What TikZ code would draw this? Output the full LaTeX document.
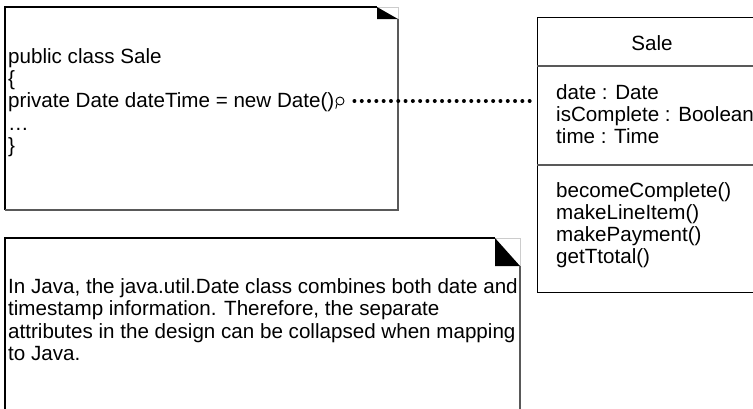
\documentclass[tikz,border=0pt]{standalone}
\usepackage{fontspec}
\setmainfont{Liberation Sans}
\begin{document}
\begin{tikzpicture}[x=1pt,y=-1pt,
  txt/.style={anchor=base west, inner sep=0pt, font=\fontsize{20.6}{23}\selectfont},
  ctxt/.style={anchor=base, inner sep=0pt, font=\fontsize{20.6}{23}\selectfont},
  border/.style={line width=1.1pt, black},
  shade/.style={line width=1.1pt, black!65},
  faint/.style={line width=0.8pt, black!20},
  dotline/.style={line width=4pt, line cap=round, dash pattern=on 0pt off 7.3pt}]
\useasboundingbox (0,0) rectangle (753,408);
\fill[white] (0,0) rectangle (753,408);

% upper note
\draw[border] (5,210) -- (5,7) -- (377,7);
\draw[faint] (377,7) -- (398,7) -- (398,19);
\fill (377,7) -- (398,19) -- (377,19) -- cycle;
\draw[shade] (398,19) -- (398,210) -- (5,210);
\node[txt] (c1) at (8,63) {public class Sale};
\node[txt] (c2) at (8,85) {\{};
\node[txt] (c3) at (8,107.5) {private Date dateTime = new Date()};
\node[txt] (c4) at (8,130) {\ldots};
\node[txt] (c5) at (8,152) {\}};

% anchor circle
\node[draw, circle, line width=0.9pt, minimum size=8pt, inner sep=0pt] (anc) at (340,101) {};
\draw[line width=0.9pt] (anc.south west) -- ++(-1,4.5);

% lower note
\draw[border] (5,410) -- (5,238) -- (495,238);
\draw[faint] (495,238) -- (520,238) -- (520,266);
\fill (495,238) -- (520,266) -- (495,266) -- cycle;
\draw[shade] (520,266) -- (520,410);
\node[txt] (j1) at (8,293) {In Java, the java.util.Date class combines both date and};
\node[txt] (j2) at (8,315.5) {timestamp information. Therefore, the separate};
\node[txt] (j3) at (8,338) {attributes in the design can be collapsed when mapping};
\node[txt] (j4) at (8,360.5) {to Java.};

% class box
\node[draw, line width=1.1pt, minimum width=230pt, minimum height=275pt, inner sep=0pt, anchor=north west] (sale) at (537,17) {};
\draw[shade] (sale.west |- 0,66) -- (sale.east |- 0,66);
\draw[shade] (sale.west |- 0,165) -- (sale.east |- 0,165);
\node[ctxt] (name) at (652,50) {Sale};
\node[txt] (a1) at (556,99) {date : Date};
\node[txt] (a2) at (556,121) {isComplete : Boolean};
\node[txt] (a3) at (556,143) {time : Time};
\node[txt] (o1) at (556,197) {becomeComplete()};
\node[txt] (o2) at (556,219) {makeLineItem()};
\node[txt] (o3) at (556,241) {makePayment()};
\node[txt] (o4) at (556,263) {getTtotal()};

% dotted link
\draw[dotline] ([xshift=10pt]anc.east) -- ([xshift=-6pt]anc.east -| sale.west);
\end{tikzpicture}
\end{document}
